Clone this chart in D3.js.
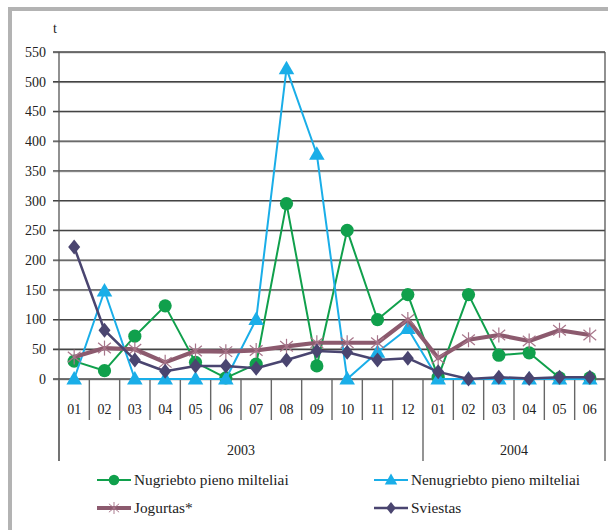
<!DOCTYPE html>
<html>
<head>
<meta charset="utf-8">
<script src="https://cdn.jsdelivr.net/npm/d3@7"></script>
<style>
  html, body { margin: 0; padding: 0; background: #fff; }
  svg { display: block; font-family: "Liberation Serif", "DejaVu Serif", serif; }
</style>
</head>
<body>
<svg id="chart" width="608" height="530"></svg>
<script>
// ---- data ----
const categories = ["2003-01","2003-02","2003-03","2003-04","2003-05","2003-06","2003-07","2003-08","2003-09","2003-10","2003-11","2003-12",
                    "2004-01","2004-02","2004-03","2004-04","2004-05","2004-06"];
const yTicks = [0,50,100,150,200,250,300,350,400,450,500,550];
const nugriebto   = [30, 14, 72, 123, 28, 2, 25, 295, 22, 250, 100, 142, 3, 142, 40, 44, 2, 2];
const nenugriebto = [0, 148, 0, 0, 0, 0, 100, 522, 378, 0, 45, 85, 0, 0, 0, 0, 0, 0];
const jogurtas    = [37, 52, 50, 28, 47, 46, 48, 55, 61, 61, 61, 100, 35, 66, 74, 64, 82, 74];
const sviestas    = [222, 82, 32, 13, 22, 22, 18, 32, 47, 45, 32, 35, 12, 0, 3, 1, 3, 3];
const seriesNames = ["Nugriebto pieno milteliai", "Nenugriebto pieno milteliai", "Jogurtas*", "Sviestas"];
const unitLabel = "t";

// ---- layout ----
const svg = d3.select("#chart");
const pLeft = 59, pRight = 605, pTop = 52, pBottom = 379;

const x = d3.scaleBand().domain(d3.range(categories.length)).range([pLeft, pRight]).padding(0);
const y = d3.scaleLinear().domain([0, 550]).range([pBottom, pTop]);
const cx = i => x(i) + x.bandwidth() / 2;

// outer frame
svg.append("rect").attr("x", 10).attr("y", 9).attr("width", 620).attr("height", 540)
  .attr("fill", "none").attr("stroke", "#b3b3b3").attr("stroke-width", 4);

// unit label
svg.append("text").attr("x", 55).attr("y", 33).attr("text-anchor", "middle")
  .attr("font-size", 14).attr("fill", "#222").text(unitLabel);

// gridlines
const g = svg.append("g");
g.selectAll("line.grid").data(yTicks).join("line")
  .attr("x1", pLeft - 6).attr("x2", pRight)
  .attr("y1", d => y(d) + 0.9).attr("y2", d => y(d) + 0.9)
  .attr("stroke", "#b5b5b5").attr("stroke-width", 1);
g.selectAll("line.grid2").data(yTicks).join("line")
  .attr("x1", pLeft - 6).attr("x2", pRight)
  .attr("y1", d => y(d)).attr("y2", d => y(d))
  .attr("stroke", "#444").attr("stroke-width", 1.3);

// y labels
g.selectAll("text.yl").data(yTicks).join("text")
  .attr("x", 46).attr("y", d => y(d)).attr("dy", "0.35em")
  .attr("text-anchor", "end").attr("font-size", 14).attr("fill", "#222").text(d => d);

// plot border verticals
svg.append("line").attr("x1", pLeft).attr("x2", pLeft).attr("y1", pTop).attr("y2", 461)
  .attr("stroke", "#555").attr("stroke-width", 1.3);
svg.append("line").attr("x1", pRight).attr("x2", pRight).attr("y1", pTop).attr("y2", pBottom)
  .attr("stroke", "#555").attr("stroke-width", 1.3);

// x ticks
const bounds = d3.range(categories.length + 1);
const yearOf = c => c.split("-")[0];
const monthOf = c => c.split("-")[1];
const isYearBoundary = k => k === 0 || k === categories.length || yearOf(categories[k]) !== yearOf(categories[k - 1]);
svg.selectAll("line.xt").data(bounds).join("line")
  .attr("x1", k => k < categories.length ? x(k) : pRight)
  .attr("x2", k => k < categories.length ? x(k) : pRight)
  .attr("y1", pBottom).attr("y2", k => isYearBoundary(k) ? 461 : 420)
  .attr("stroke", "#666").attr("stroke-width", 1.4);

svg.selectAll("text.xl").data(categories).join("text")
  .attr("x", (d, i) => cx(i)).attr("y", 414).attr("text-anchor", "middle")
  .attr("font-size", 14).attr("fill", "#222").text(d => monthOf(d));

const years = Array.from(new Set(categories.map(yearOf)));
years.forEach(yr => {
  const idx = categories.map((c, i) => [c, i]).filter(p => yearOf(p[0]) === yr).map(p => p[1]);
  const x0 = x(idx[0]), x1 = x(idx[idx.length - 1]) + x.bandwidth();
  svg.append("text").attr("x", (x0 + x1) / 2).attr("y", 455).attr("text-anchor", "middle")
    .attr("font-size", 14).attr("fill", "#222").text(yr);
});

// ---- series ----
const colors = ["#10a04c", "#1aaee8", "#8c5a6e", "#4a4570"];
const widths = [2, 2, 4.2, 2.5];
const data = [nugriebto, nenugriebto, jogurtas, sviestas];

function marker(sel, type, color) {
  if (type === 0) {
    sel.append("circle").attr("r", 6.6).attr("fill", color);
  } else if (type === 1) {
    sel.append("path").attr("d", d3.symbol(d3.symbolTriangle, 105)()).attr("fill", color).attr("transform", "translate(0,1)");
  } else if (type === 2) {
    const r = 7.5;
    [[0, -r, 0, r], [-r * 0.85, -r * 0.7, r * 0.85, r * 0.7], [-r * 0.85, r * 0.7, r * 0.85, -r * 0.7]].forEach(l => {
      sel.append("line").attr("x1", l[0]).attr("y1", l[1]).attr("x2", l[2]).attr("y2", l[3])
        .attr("stroke", "#a7758a").attr("stroke-width", 1.2);
    });
  } else {
    sel.append("path").attr("d", "M0,-7.5 L6,0 L0,7.5 L-6,0 Z").attr("fill", color);
  }
}

const line = d3.line().x((d, i) => cx(i)).y(d => y(d));
data.forEach((vals, s) => {
  const sg = svg.append("g");
  sg.append("path").attr("d", line(vals)).attr("fill", "none")
    .attr("stroke", colors[s]).attr("stroke-width", widths[s]).attr("stroke-linejoin", "round");
  vals.forEach((v, i) => {
    const m = sg.append("g").attr("transform", `translate(${cx(i)},${y(v)})`);
    marker(m, s, colors[s]);
  });
});

// ---- legend ----
const legendPos = [[97, 480], [374, 480], [97, 508], [374, 508]];
seriesNames.forEach((name, s) => {
  const [lx, ly] = legendPos[s];
  const lg = svg.append("g");
  lg.append("line").attr("x1", lx).attr("x2", lx + 34).attr("y1", ly).attr("y2", ly)
    .attr("stroke", colors[s]).attr("stroke-width", widths[s]);
  const m = lg.append("g").attr("transform", `translate(${lx + 17},${ly}) scale(0.8)`);
  marker(m, s, colors[s]);
  lg.append("text").attr("x", lx + 37).attr("y", ly).attr("dy", "0.35em")
    .attr("font-size", 15.3).attr("fill", "#222").text(name);
});
</script>
</body>
</html>
